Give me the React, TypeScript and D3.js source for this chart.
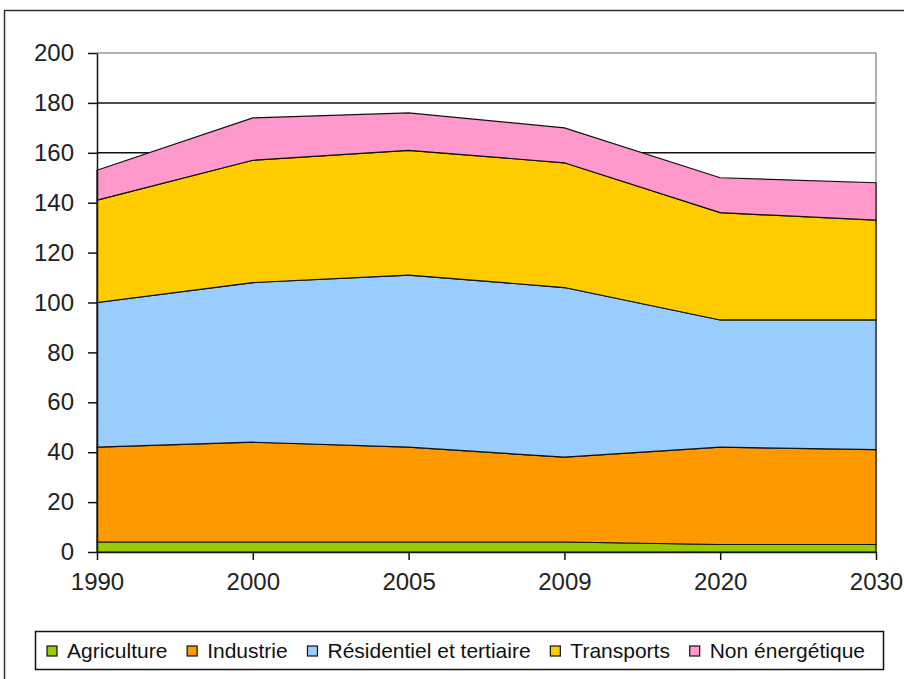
import React, { useEffect, useRef } from 'react';
import * as d3 from 'd3';

const years = ['1990', '2000', '2005', '2009', '2020', '2030'];
const seriesNames = ['Agriculture', 'Industrie', 'Résidentiel et tertiaire', 'Transports', 'Non énergétique'];
const agriculture = [4, 4, 4, 4, 3, 3];
const industrie = [38, 40, 38, 34, 39, 38];
const residentiel = [58, 64, 69, 68, 51, 52];
const transports = [41, 49, 50, 50, 43, 40];
const nonEnergetique = [12, 17, 15, 14, 14, 15];
const yTicks = [0, 20, 40, 60, 80, 100, 120, 140, 160, 180, 200];
const colors = ['#99CC00', '#FF9900', '#99CCFF', '#FFCC00', '#FF99CC'];

const W = 904;
const H = 679;
const FONT = 'Liberation Sans, Arial, sans-serif';

const App: React.FC = () => {
    const svgRef = useRef<SVGSVGElement>(null);

    useEffect(() => {
        const svg = d3.select(svgRef.current);
        svg.selectAll('*').remove();

        const margin = { top: 53, right: 28, bottom: 127, left: 97 };
        const innerWidth = W - margin.left - margin.right;
        const innerHeight = H - margin.top - margin.bottom;

        // outer frame (cropped in the original)
        svg.append('rect')
            .attr('x', 4.5).attr('y', 10.5)
            .attr('width', W + 10).attr('height', H + 10)
            .attr('fill', 'white')
            .attr('stroke', '#333').attr('stroke-width', 1.5);

        const table = years.map((y, i) => ({
            year: y,
            [seriesNames[0]]: agriculture[i],
            [seriesNames[1]]: industrie[i],
            [seriesNames[2]]: residentiel[i],
            [seriesNames[3]]: transports[i],
            [seriesNames[4]]: nonEnergetique[i],
        }));

        const stack = d3.stack<any>().keys(seriesNames);
        const layers = stack(table);

        const x = d3.scalePoint<string>().domain(years).range([0, innerWidth]);
        const y = d3.scaleLinear().domain([0, 200]).range([innerHeight, 0]);

        const g = svg.append('g').attr('transform', `translate(${margin.left},${margin.top})`);

        // gridlines
        g.selectAll('.grid')
            .data(yTicks.filter((t) => t > 0 && t < 200))
            .enter()
            .append('line')
            .attr('x1', 0).attr('x2', innerWidth)
            .attr('y1', (d) => y(d)).attr('y2', (d) => y(d))
            .attr('stroke', '#111').attr('stroke-width', 1.5);

        // plot border top/right
        g.append('path')
            .attr('d', `M0,${y(200)}H${innerWidth}V${innerHeight}`)
            .attr('fill', 'none').attr('stroke', '#999').attr('stroke-width', 1.5);

        const area = d3.area<any>()
            .x((d) => x(d.data.year)!)
            .y0((d) => y(d[0]))
            .y1((d) => y(d[1]));

        g.selectAll('.layer')
            .data(layers)
            .enter()
            .append('path')
            .attr('d', area)
            .attr('fill', (d, i) => colors[i])
            .attr('stroke', '#111')
            .attr('stroke-width', 1.2);

        // y axis
        const yAxis = d3.axisLeft(y).tickValues(yTicks).tickSize(9).tickSizeOuter(0).tickPadding(14);
        const ya = g.append('g').call(yAxis);
        ya.select('.domain').attr('stroke', '#111').attr('stroke-width', 1.5);
        ya.selectAll('line').attr('stroke', '#111').attr('stroke-width', 1.5);
        ya.selectAll('text')
            .attr('font-family', FONT)
            .attr('font-size', 24)
            .attr('fill', '#222');

        // x axis
        const xAxis = d3.axisBottom(x).tickSize(8).tickSizeOuter(0).tickPadding(13);
        const xa = g.append('g').attr('transform', `translate(0,${innerHeight})`).call(xAxis);
        xa.select('.domain').attr('stroke', '#111').attr('stroke-width', 1.5);
        xa.selectAll('line').attr('stroke', '#111').attr('stroke-width', 1.5);
        xa.selectAll('text')
            .attr('font-family', FONT)
            .attr('font-size', 24)
            .attr('fill', '#222');

        // legend
        const legend = svg.append('g');
        legend.append('rect')
            .attr('x', 35.5).attr('y', 631.5)
            .attr('width', 848).attr('height', 38)
            .attr('fill', 'white').attr('stroke', '#111').attr('stroke-width', 1.5);

        const items = seriesNames.map((name, i) => {
            const mk = legend.append('rect')
                .attr('y', 646)
                .attr('width', 10).attr('height', 10)
                .attr('fill', colors[i]).attr('stroke', '#111').attr('stroke-width', 1.2);
            const t = legend.append('text')
                .attr('y', 651)
                .attr('dy', '0.35em')
                .attr('font-family', FONT)
                .attr('font-size', 21)
                .attr('fill', '#111')
                .text(name);
            return { mk, t, len: (t.node() as SVGTextElement).getComputedTextLength() };
        });
        const startX = 47;
        const endX = 865;
        const totalText = d3.sum(items, (d) => d.len);
        const gap = (endX - startX - totalText - items.length * 20) / (items.length - 1);
        let cx = startX;
        items.forEach((it) => {
            it.mk.attr('x', cx);
            it.t.attr('x', cx + 20);
            cx += 20 + it.len + gap;
        });
    }, []);

    return (
        <svg ref={svgRef} width={W} height={H} style={{ position: 'absolute', left: 0, top: 0 }} />
    );
};

export default App;
